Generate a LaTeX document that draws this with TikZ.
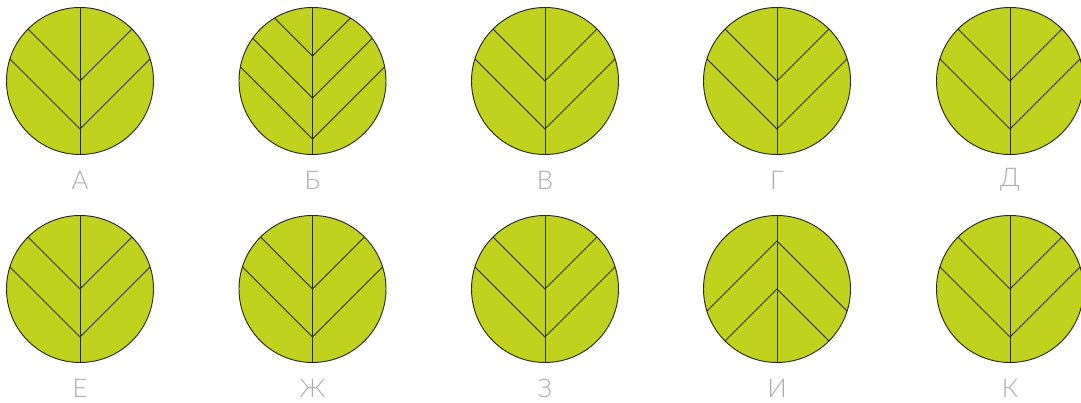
\documentclass[tikz,border=0pt]{standalone}
\usepackage{fontspec}
\setmainfont{Lato}[UprightFont={* Light}]
\usepackage{tikz}
\definecolor{LeafGreen}{HTML}{C0D21E}
\definecolor{VeinDark}{HTML}{2A2A1C}
\definecolor{TagGray}{HTML}{ABABAB}
\tikzset{
  leaf/.style={fill=LeafGreen,draw=VeinDark,line width=0.8pt},
  vein/.style={draw=VeinDark,line width=0.8pt},
  tag/.style={text=TagGray,inner sep=0pt,font=\fontsize{22}{24}\selectfont}
}

\begin{document}
\begin{tikzpicture}[x=0.03cm,y=0.03cm]
  \useasboundingbox (0,0) rectangle (1081,403);
  % leaf centre / label / chevron direction / chevron depths below centre
  \foreach \i/\x/\y/\lbl/\dir/\depths in {
      1/80/322/А/1/{0,48},2/312.5/322/Б/1/{-25,17,58},3/545/322/В/1/{0,48},
      4/777/322/Г/1/{0,48},5/1010/322/Д/1/{0,48},
      6/80/114/Е/1/{0,48},7/312.5/114/Ж/1/{0,48},8/545/114/З/1/{0,48},
      9/777/114/И/-1/{-48,0},10/1010/114/К/1/{0,48}}
  {
    \fill[LeafGreen] (\x,\y) circle (73.5);
    \begin{scope}
      \clip (\x,\y) circle (73.5);
      \foreach \d in \depths
        \draw[vein] (\x-150,\y-\d+150*\dir) -- (\x,\y-\d) -- (\x+150,\y-\d+150*\dir);
      \draw[vein] (\x,\y+80) -- (\x,\y-80);
    \end{scope}
    \draw[leaf,fill=none] (\x,\y) circle (73.5);
    \node[tag] (tag\i) at (\x,\y-99) {\lbl};
  }
\end{tikzpicture}
\end{document}
